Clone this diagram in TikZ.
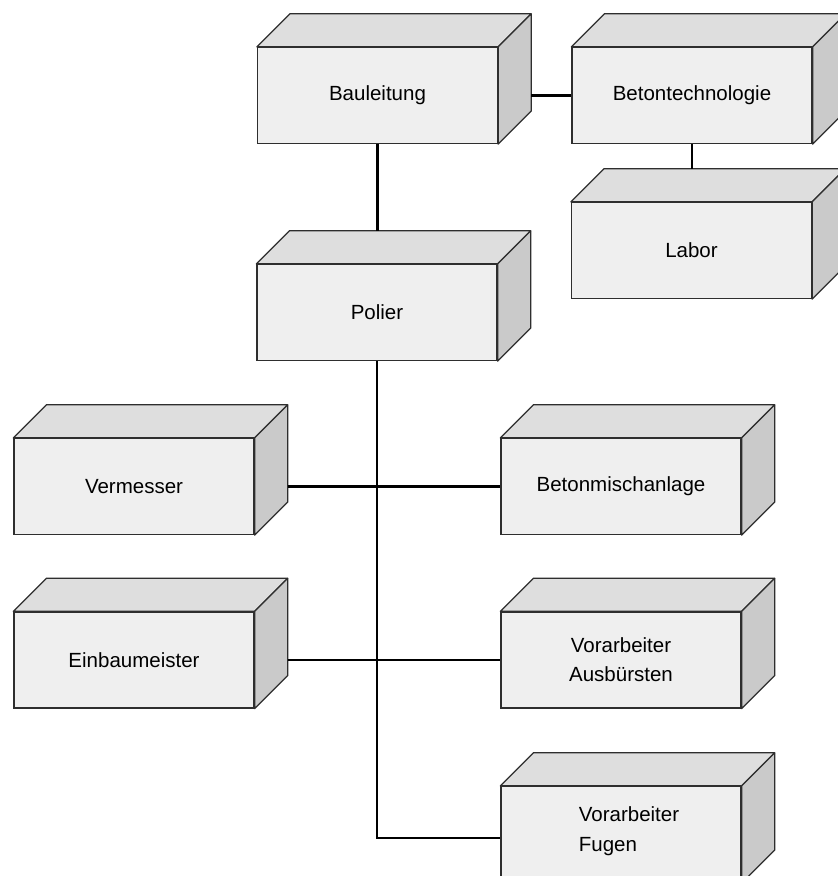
\documentclass[tikz,border=0pt]{standalone}
\usepackage{fontspec}
\setmainfont{Liberation Sans}
\usetikzlibrary{calc}
\definecolor{frontc}{HTML}{EFEFEF}
\definecolor{topc}{HTML}{DEDEDE}
\definecolor{sidec}{HTML}{CACACA}
\definecolor{edgec}{HTML}{2E2E2E}
\tikzset{
  box/.style={draw=edgec, line width=1.3pt, fill=frontc, minimum width=240pt,
    minimum height=96pt, inner sep=0pt, align=center,
    font=\fontsize{20.5}{29}\selectfont},
  face/.style={draw=edgec, line width=1.3pt, line join=round},
  conn/.style={draw=black, line width=2.2pt},
  lbl/.style={inner sep=0pt, align=left, font=\fontsize{20.5}{30}\selectfont}
}
\newcommand\cubebox[4]{%
  \node[box] (#1) at (#2,#3) {#4};
  \draw[face, fill=topc] (#1.north west) -- ++(33,33) -- ($(#1.north east)+(33,33)$) -- (#1.north east) -- cycle;
  \draw[face, fill=sidec] (#1.north east) -- ++(33,33) -- ($(#1.south east)+(33,33)$) -- (#1.south east) -- cycle;
  \coordinate (#1-top) at ($(#1.north)+(33,33)$);
  \coordinate (#1-side) at ($(#1.east)+(33,0)$);
}
\begin{document}
\begin{tikzpicture}[x=1pt,y=1pt]
\useasboundingbox (0,0) rectangle (838,876);
\fill[white] (0,0) rectangle (838,876);
\cubebox{bau}{377.5}{780.5}{Bauleitung}
\cubebox{tech}{692}{780.5}{Betontechnologie}
\cubebox{labor}{691.5}{625.5}{Labor}
\cubebox{polier}{377}{563.5}{Polier}
\cubebox{verm}{134}{389.5}{Vermesser}
\cubebox{misch}{621}{389.5}{Betonmischanlage}
\cubebox{einbau}{134}{216}{Einbaumeister}
\cubebox{buerst}{621}{216}{Vorarbeiter\\Ausbürsten}
\cubebox{fugen}{621}{41.5}{}
\node[lbl] (fugentxt) at ($(fugen.center)+(8,3)$) {Vorarbeiter\\Fugen};
% connectors
\draw[conn] (bau-side) -- (tech.west |- bau-side);
\draw[conn] (tech.south) -- (tech.south |- labor-top);
\draw[conn] (bau.south) -- (bau.south |- polier-top);
\draw[conn] (polier.south) |- ($(fugen.west)+(0,-3.5)$);
\draw[conn] (verm-side) -- (misch.west);
\draw[conn] (einbau-side) -- (buerst.west);
\end{tikzpicture}
\end{document}
